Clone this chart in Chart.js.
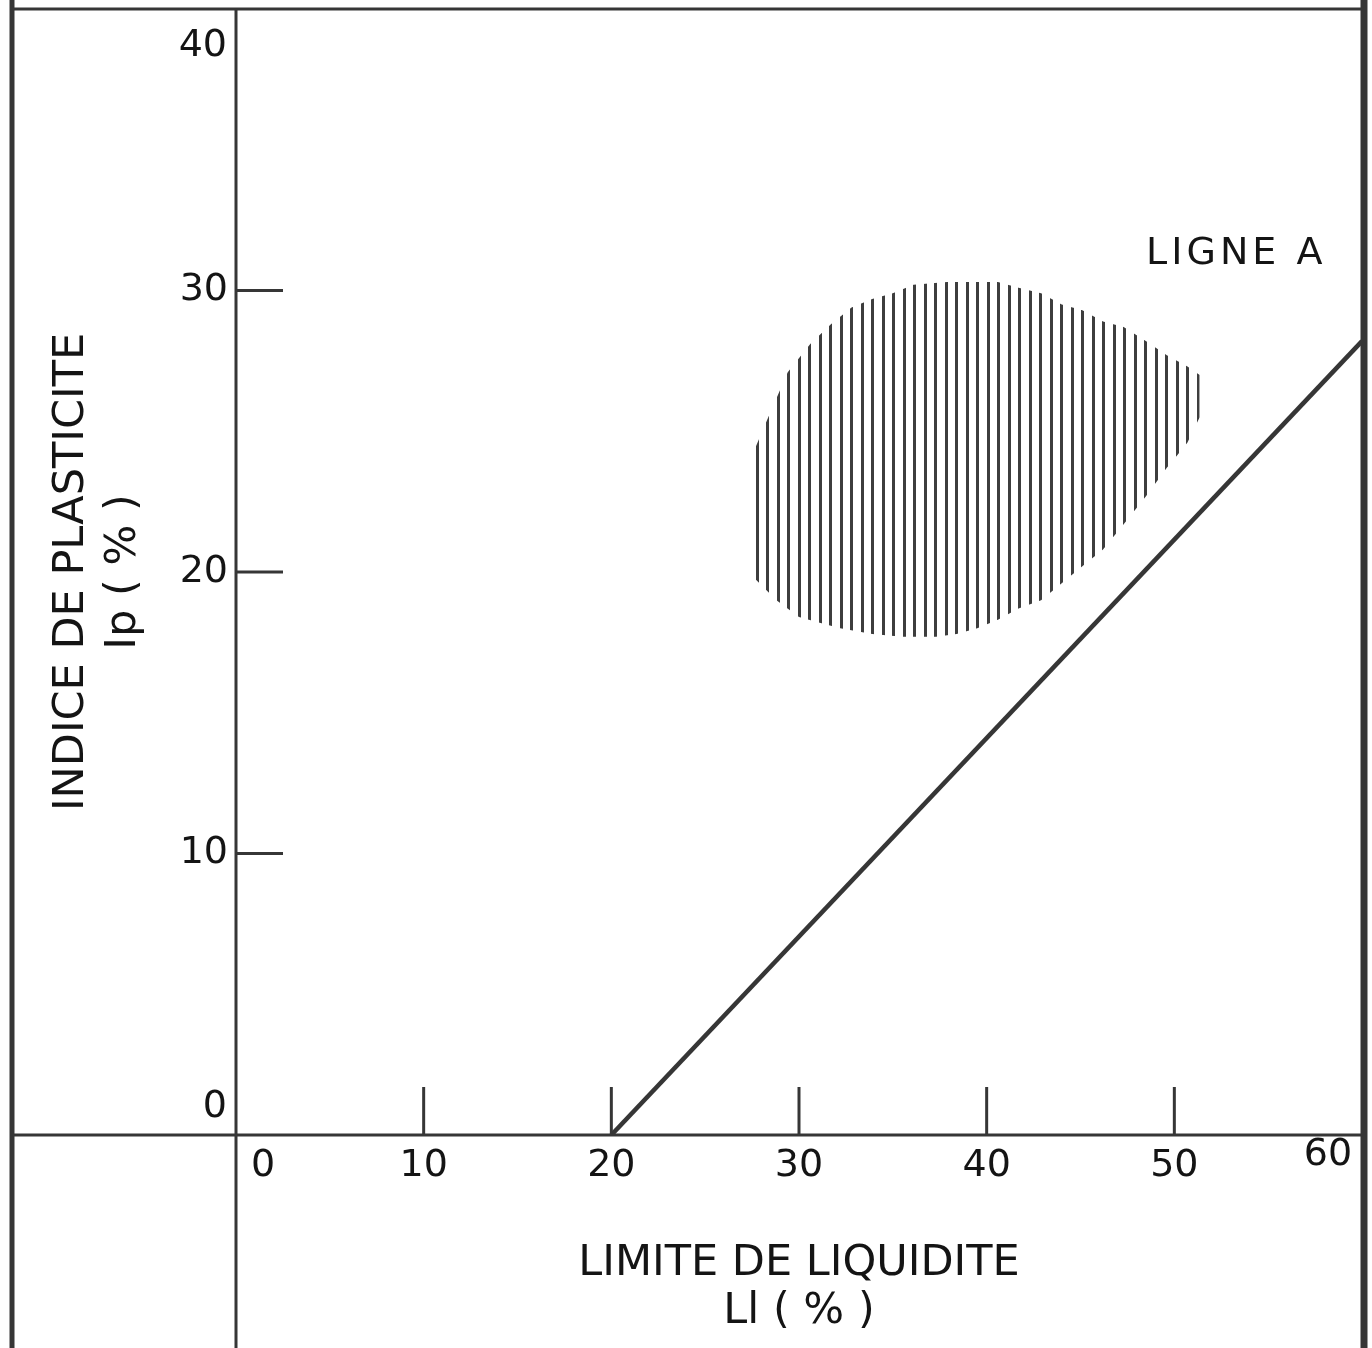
<!DOCTYPE html>
<html>
<head>
<meta charset="utf-8">
<title>Abaque de plasticite</title>
<script src="https://cdn.jsdelivr.net/npm/chart.js@4.4.0/dist/chart.umd.min.js"></script>
<style>
  html, body { margin: 0; padding: 0; background: #fff; }
  canvas { display: block; }
</style>
</head>
<body>
<canvas id="plasticityChart" width="1372" height="1348"></canvas>
<script>
// axis ticks
const xTicks = [0, 10, 20, 30, 40, 50, 60];
const yTicks = [0, 10, 20, 30, 40];

// ligne A (LL, Ip)
const ligneALL = [20, 60];
const ligneAIp = [0, 28.2];

// hatched zone, upper and lower edge (LL, Ip)
const zoneTopLL = [27.6, 28.3, 29.4, 30.6, 31.7, 32.8, 33.9, 35.0, 36.1, 37.9, 39.5, 40.6, 41.7, 42.9, 44.0, 45.1, 46.2, 47.3, 48.5, 49.6, 50.7, 51.35];
const zoneTopIp = [24.3, 25.4, 27.1, 28.1, 28.8, 29.4, 29.7, 29.9, 30.2, 30.3, 30.3, 30.3, 30.1, 29.9, 29.5, 29.3, 28.9, 28.7, 28.2, 27.7, 27.3, 27.0];
const zoneBotLL = [27.6, 28.8, 30.0, 31.1, 32.2, 33.9, 35.5, 37.3, 38.4, 39.5, 40.6, 41.7, 42.9, 44.0, 45.1, 46.2, 47.3, 48.5, 49.6, 50.1, 50.7, 51.35];
const zoneBotIp = [19.8, 19.0, 18.4, 18.2, 18.0, 17.8, 17.7, 17.7, 17.8, 18.0, 18.3, 18.7, 19.0, 19.6, 20.2, 20.8, 21.7, 22.7, 23.7, 24.1, 24.6, 25.5];

const ink = '#141414';
const lineInk = '#363636';
const tickFont = { family: 'DejaVu Sans', size: 38 };

function toPoints(xs, ys) {
  return xs.map((v, i) => ({ x: v, y: ys[i] }));
}

function isEnd(list, v) {
  return v === list[0] || v === list[list.length - 1];
}

function hatchPattern() {
  const tile = document.createElement('canvas');
  tile.width = 21;
  tile.height = 4;
  const g = tile.getContext('2d');
  g.fillStyle = '#3d3d3d';
  g.fillRect(0, 0, 3, 4);
  g.fillRect(10, 0, 3, 4);
  return g.createPattern(tile, 'repeat');
}

const framePlugin = {
  id: 'frame',
  afterDraw(chart) {
    const ctx = chart.ctx;
    const xs = chart.scales.x;
    const ys = chart.scales.y;
    const W = chart.width, H = chart.height;
    const x0 = xs.getPixelForValue(xTicks[0]);
    const y0 = ys.getPixelForValue(yTicks[0]);
    const xEnd = xs.getPixelForValue(xTicks[xTicks.length - 1]);
    const yEnd = ys.getPixelForValue(yTicks[yTicks.length - 1]);
    const seg = (a, b, c, d) => { ctx.beginPath(); ctx.moveTo(a, b); ctx.lineTo(c, d); ctx.stroke(); };

    ctx.save();
    ctx.strokeStyle = lineInk;
    // outer frame
    ctx.lineWidth = 5;
    seg(12, 0, 12, H);
    ctx.lineWidth = 7;
    seg(W - 8, 0, W - 8, H);
    ctx.lineWidth = 3;
    seg(10, 9, W - 5, 9);
    // axes
    seg(x0, 9, x0, H);
    seg(12, y0, W - 8, y0);
    // inner tick marks
    xTicks.slice(1, -1).forEach(v => {
      const px = xs.getPixelForValue(v);
      seg(px, y0, px, y0 - 48);
    });
    yTicks.slice(1, -1).forEach(v => {
      const py = ys.getPixelForValue(v);
      seg(x0, py, x0 + 47, py);
    });

    // end labels of both axes
    ctx.fillStyle = ink;
    ctx.font = '38px "DejaVu Sans"';
    ctx.textBaseline = 'middle';
    ctx.textAlign = 'right';
    ctx.fillText(String(yTicks[0]), x0 - 9, y0 - 28);
    ctx.fillText(String(yTicks[yTicks.length - 1]), x0 - 9, yEnd + 37);
    ctx.textAlign = 'center';
    ctx.fillText(String(xTicks[0]), x0 + 27, y0 + 31);
    ctx.fillText(String(xTicks[xTicks.length - 1]), xEnd - 34, y0 + 20);

    // line label
    ctx.letterSpacing = '4px';
    ctx.fillText('LIGNE A', xs.getPixelForValue(53.3), ys.getPixelForValue(31.3));
    ctx.restore();
  }
};

new Chart(document.getElementById('plasticityChart'), {
  type: 'scatter',
  data: {
    datasets: [
      {
        label: 'zone haut',
        data: toPoints(zoneTopLL, zoneTopIp),
        showLine: true,
        borderColor: 'rgba(0,0,0,0)',
        borderWidth: 0,
        pointRadius: 0,
        fill: '+1',
        backgroundColor: hatchPattern()
      },
      {
        label: 'zone bas',
        data: toPoints(zoneBotLL, zoneBotIp),
        showLine: true,
        borderColor: 'rgba(0,0,0,0)',
        borderWidth: 0,
        pointRadius: 0,
        fill: false
      },
      {
        label: 'Ligne A',
        data: toPoints(ligneALL, ligneAIp),
        showLine: true,
        borderColor: lineInk,
        borderWidth: 4.5,
        pointRadius: 0,
        fill: false
      }
    ]
  },
  options: {
    responsive: false,
    animation: false,
    events: [],
    layout: { padding: { top: 9, right: 10, bottom: 0, left: 0 } },
    plugins: {
      legend: { display: false },
      tooltip: { enabled: false }
    },
    scales: {
      x: {
        type: 'linear',
        min: 0,
        max: 60,
        afterBuildTicks: s => { s.ticks = xTicks.map(v => ({ value: v })); },
        afterFit: s => { s.height = 213; s.paddingLeft = 0; s.paddingRight = 0; },
        grid: { display: false, drawTicks: false },
        border: { display: false },
        ticks: {
          font: tickFont,
          color: ink,
          padding: 8,
          maxRotation: 0,
          autoSkip: false,
          callback: v => isEnd(xTicks, v) ? null : v
        },
        title: {
          display: true,
          text: ['LIMITE DE LIQUIDITE', 'Ll ( % )'],
          font: { family: 'DejaVu Sans', size: 43, lineHeight: '48px' },
          color: ink,
          padding: { top: 0, bottom: 12 }
        }
      },
      y: {
        type: 'linear',
        min: 0,
        max: 40,
        afterBuildTicks: s => { s.ticks = yTicks.map(v => ({ value: v })); },
        afterFit: s => { s.width = 236; s.paddingTop = 0; s.paddingBottom = 0; },
        grid: { display: false, drawTicks: false },
        border: { display: false },
        ticks: {
          font: tickFont,
          color: ink,
          padding: 8,
          callback: v => isEnd(yTicks, v) ? null : v
        },
        title: {
          display: true,
          text: ['INDICE DE PLASTICITE', 'Ip ( % )'],
          font: { family: 'DejaVu Sans', size: 43, lineHeight: '52px' },
          color: ink,
          padding: { top: 46, bottom: 0 }
        }
      }
    }
  },
  plugins: [framePlugin]
});
</script>
</body>
</html>
